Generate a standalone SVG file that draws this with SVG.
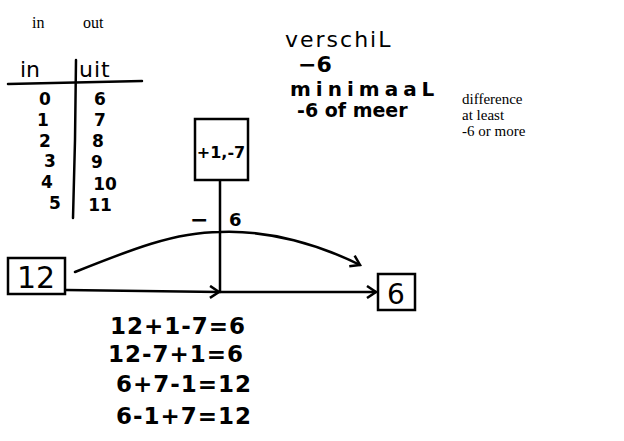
<svg xmlns="http://www.w3.org/2000/svg" width="624" height="441" viewBox="0 0 624 441">
<style>
.hw{font-family:"DejaVu Sans","Liberation Sans",sans-serif;font-size:22px;fill:#000;font-weight:bold}
.pr{font-family:"Liberation Serif","Times New Roman",serif;font-size:16px;fill:#000}
.ln{fill:none;stroke:#000;stroke-width:2.5;stroke-linecap:round}
.bx{fill:#fff;stroke:#000;stroke-width:2.5}
</style>
<defs>
<marker id="ah" markerWidth="14" markerHeight="14" refX="11" refY="7" orient="auto" markerUnits="userSpaceOnUse">
<path d="M2,1 L11,7 L2,13" fill="none" stroke="#000" stroke-width="2.5"/>
</marker>
</defs>
<rect width="624" height="441" fill="#fff"/>
<g id="header">
<text class="pr" x="32" y="28">in</text>
<text class="pr" x="83" y="28">out</text>
</g>
<g id="table">
<text class="hw" x="20" y="77" style="font-weight:normal">in</text>
<text class="hw" x="79" y="77" letter-spacing="1" style="font-weight:normal">uit</text>
<path class="ln" d="M8,84 L142,81"/>
<path class="ln" d="M76,60 L75,140 L73,218"/>
<g class="hw" text-anchor="middle" style="font-size:17px">
<text x="45" y="105">0</text><text x="100" y="105">6</text>
<text x="43" y="126">1</text><text x="100" y="126">7</text>
<text x="45" y="147">2</text><text x="98" y="147">8</text>
<text x="50" y="167">3</text><text x="97" y="168">9</text>
<text x="47" y="188">4</text><text x="105" y="190">10</text>
<text x="55" y="209">5</text><text x="100" y="211">11</text>
</g>
</g>
<g id="connectors">
<path class="ln" d="M220,180 L220,292"/>
<path class="ln" d="M75,272 C130,250 175,232 220,232 C270,230 320,245 360,265" marker-end="url(#ah)"/>
<path class="ln" d="M66,290 L219,292" marker-end="url(#ah)"/>
<path class="ln" d="M220,292 L376,292" marker-end="url(#ah)"/>
</g>
<g id="node-op">
<rect class="bx" x="195" y="119" width="53" height="61"/>
<text class="hw" x="221" y="158" text-anchor="middle" style="font-size:16px">+1,-7</text>
</g>
<g id="label-minus6">
<text class="hw" x="190" y="227">−</text>
<text class="hw" x="229" y="226" style="font-size:18px">6</text>
</g>
<g id="node-12">
<rect class="bx" x="8" y="258" width="57" height="36"/>
<text class="hw" x="36" y="288" text-anchor="middle" style="font-size:30px;font-weight:normal">12</text>
</g>
<g id="node-6">
<rect class="bx" x="378" y="274" width="37" height="36"/>
<text class="hw" x="396" y="304" text-anchor="middle" style="font-size:28px;font-weight:normal">6</text>
</g>
<g id="notes">
<text class="hw" x="285" y="47" letter-spacing="2" style="font-weight:normal">verschiL</text>
<text class="hw" x="298" y="72">−6</text>
<text class="hw" x="290" y="96" letter-spacing="5" style="font-size:20px">minimaaL</text>
<text class="hw" x="297" y="117" style="font-size:19px">-6 of meer</text>
</g>
<g id="translation" class="pr" style="font-size:15px">
<text x="462" y="104">difference</text>
<text x="462" y="120">at least</text>
<text x="462" y="136">-6 or more</text>
</g>
<g id="equations" class="hw" style="font-size:23px" letter-spacing="1">
<text x="110" y="334">12+1-7=6</text>
<text x="108" y="362">12-7+1=6</text>
<text x="116" y="392">6+7-1=12</text>
<text x="116" y="424">6-1+7=12</text>
</g>
</svg>
